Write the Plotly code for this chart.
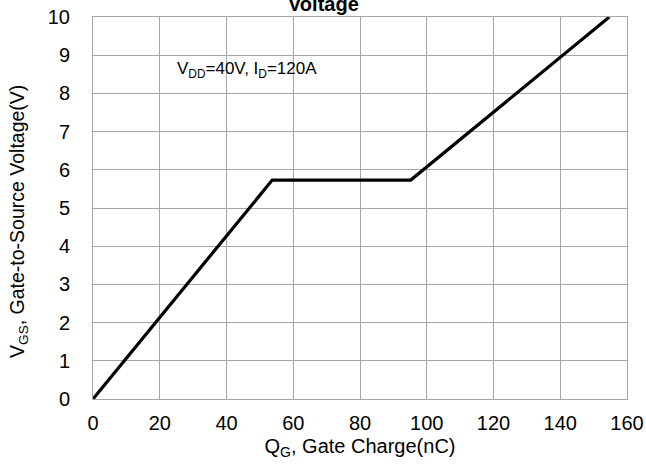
import plotly.graph_objects as go

# Gate charge curve: Qg (nC) vs Vgs (V)
qg_nc = [0, 53.7, 95.2, 154.7]
vgs_v = [0, 5.73, 5.73, 10]

x_ticks = [0, 20, 40, 60, 80, 100, 120, 140, 160]
y_ticks = [0, 1, 2, 3, 4, 5, 6, 7, 8, 9, 10]

FONT = "Liberation Sans, Arial, sans-serif"
GRID = "#a6a6a6"

W, H = 646, 466
ML, MR, MT, MB = 93, 19, 17, 67
PW, PH = W - ML - MR, H - MT - MB

fig = go.Figure()
fig.add_trace(go.Scatter(
    x=qg_nc, y=vgs_v, mode="lines",
    line=dict(color="black", width=3.2),
    showlegend=False, hoverinfo="skip",
))

fig.update_layout(
    width=W, height=H,
    margin=dict(l=ML, r=MR, t=MT, b=MB, autoexpand=False),
    paper_bgcolor="white", plot_bgcolor="white",
    font=dict(family=FONT, size=20, color="black"),
    showlegend=False,
)

fig.update_xaxes(
    range=[0, 160], tickvals=x_ticks, ticktext=[str(v) for v in x_ticks],
    showgrid=True, gridcolor=GRID, gridwidth=1,
    showline=True, linecolor=GRID, linewidth=1, mirror=True,
    zeroline=False, ticks="", ticklabelstandoff=6, automargin=False,
    title=dict(text="Q<sub>G</sub>, Gate Charge(nC)", font=dict(size=20), standoff=5),
)
fig.update_yaxes(
    range=[0, 10], tickvals=y_ticks, ticktext=[str(v) for v in y_ticks],
    showgrid=True, gridcolor=GRID, gridwidth=1,
    showline=True, linecolor=GRID, linewidth=1, mirror=True,
    zeroline=False, ticks="", ticklabelstandoff=18, automargin=False,
)

# Y axis title, placed as rotated text left of the tick labels
fig.add_annotation(
    x=0, y=(H - MB - 222) / PH, xref="paper", yref="paper",
    xanchor="center", yanchor="middle", xshift=18 - ML, textangle=-90,
    text="V<sub>GS</sub>, Gate-to-Source Voltage(V)", showarrow=False,
    font=dict(family=FONT, size=19.5, color="black"),
)

# Test condition label
fig.add_annotation(
    x=24.6, y=8.6, xref="x", yref="y", xanchor="left", yanchor="middle",
    text="V<sub>DD</sub>=40V, I<sub>D</sub>=120A", showarrow=False,
    font=dict(family=FONT, size=17, color="black"),
)

# Chart title (its last line sits at the top edge)
fig.add_annotation(
    x=(323 - ML) / PW, y=1, xref="paper", yref="paper",
    xanchor="center", yanchor="bottom", yshift=0,
    text="<b>Voltage</b>", showarrow=False,
    font=dict(family=FONT, size=20, color="black"),
)

fig.write_html("out.html")
